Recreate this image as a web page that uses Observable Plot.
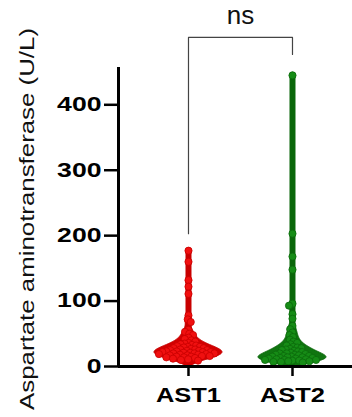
<!DOCTYPE html>
<html><head><meta charset="utf-8">
<script src="https://cdn.jsdelivr.net/npm/d3@7"></script>
<script src="https://cdn.jsdelivr.net/npm/@observablehq/plot@0.6"></script>
<style>body{margin:0;background:#fff;}</style>
</head><body><div id="chart"></div>
<script>
// ---- data ----
const categories = ["AST1", "AST2"];
const ast1 = [177, 160, 132, 122, 111, 78, 72, 68, 56, 53, 50, 48, 44, 42, 40, 38, 36, 35, 34, 33, 32, 31, 30, 30, 29, 28, 28, 27, 26, 26, 25, 25, 24, 24, 23, 23, 22, 22, 22, 21, 21, 20, 20, 20, 19, 19, 18, 18, 17, 17, 16, 16, 15, 15, 14, 14, 13, 12, 11, 10, 9];
const ast2 = [445, 203, 168, 148, 96, 93, 80, 73, 62, 57, 52, 48, 45, 41, 38, 36, 34, 32, 30, 29, 28, 27, 26, 25, 24, 23, 22, 21, 20, 20, 19, 18, 18, 17, 16, 16, 15, 15, 14, 14, 13, 13, 12, 12, 11, 11, 10, 10, 10, 9, 9, 8, 8, 7, 7, 6];
const yTicks = [0, 100, 200, 300, 400];
const yTitle = "Aspartate aminotransferase (U/L)";
const sigLabel = "ns";
const bracketX = [1, 1, 2, 2];
const bracketY = [203, 503, 503, 477];
const sigLabelY = 524;

// ---- layout ----
const W = 352, H = 417, mL = 118, mR = 0, mT = 67, mB = 51;
const yMax = 457;
const xDomain = [0.327, 2.577];
const yPx = d3.scaleLinear([0, yMax], [H - mB, mT]);
const xUnitPx = (W - mL - mR) / (xDomain[1] - xDomain[0]);

const groups = [
  {name: categories[0], values: ast1, pos: 1, area: "#d20000", spike: "#c80000", dot: "#f01010", dotStroke: "#c80000", h: 7},
  {name: categories[1], values: ast2, pos: 2, area: "#107510", spike: "#0a660a", dot: "#168c16", dotStroke: "#0b690b", h: 6}
];

function kde(values, h, lo, hi, step) {
  const out = [];
  for (let y = lo; y <= hi + 1e-9; y += step) {
    let s = 0;
    for (const v of values) { const z = (y - v) / h; s += Math.exp(-0.5 * z * z); }
    out.push({y, d: s});
  }
  return out;
}

function swarm(values, d) {
  const order = values.map(v => ({v, py: yPx(v)})).sort((a, b) => b.v - a.v);
  const placed = [];
  for (const p of order) {
    const near = placed.filter(q => Math.abs(q.py - p.py) < d);
    const cands = [0];
    for (const q of near) {
      const dx = Math.sqrt(d * d - (q.py - p.py) ** 2);
      cands.push(q.dx + dx, q.dx - dx);
    }
    cands.sort((a, b) => Math.abs(a) - Math.abs(b) || a - b);
    p.dx = 0;
    for (const c of cands) {
      if (near.every(q => (q.dx - c) ** 2 + (q.py - p.py) ** 2 >= d * d - 1e-6)) { p.dx = c; break; }
    }
    placed.push(p);
  }
  return placed;
}

const marks = [];
const halfMaxPx = 34;
for (const g of groups) {
  const lo = Math.max(0, d3.min(g.values) - 2 * g.h), hi = d3.max(g.values);
  const dens = kde(g.values, g.h, lo, hi, 0.5);
  const dmax = d3.max(dens, d => d.d);
  const rows = dens.map(r => {
    const w = r.d / dmax * halfMaxPx / xUnitPx;
    return {y: r.y, x1: g.pos - w, x2: g.pos + w};
  });
  marks.push(Plot.areaX(rows, {y: "y", x1: "x1", x2: "x2", fill: g.area, stroke: g.spike, strokeWidth: 1, curve: "basis"}));
  marks.push(Plot.ruleX([g], {x: "pos", y1: d => d3.min(d.values), y2: d => d3.max(d.values), stroke: g.spike, strokeWidth: 6, strokeLinecap: "round"}));
  const pts = swarm(g.values, 4.0).map(p => ({y: p.v, x: g.pos + p.dx / xUnitPx}));
  marks.push(Plot.dot(pts, {x: "x", y: "y", r: 3.6, fill: g.dot, stroke: g.dotStroke, strokeWidth: 0.8}));
}

const bracket = bracketX.map((x, i) => ({x, y: bracketY[i]}));

const chart = Plot.plot({
  width: W, height: H,
  marginLeft: mL, marginRight: mR, marginTop: mT, marginBottom: mB,
  style: {fontFamily: "'Liberation Sans', Arial, sans-serif", background: "#fff", color: "#000", overflow: "visible"},
  x: {domain: xDomain, axis: null},
  y: {domain: [0, yMax], axis: null},
  marks: [
    ...marks,
    Plot.ruleY([0], {stroke: "#000", strokeWidth: 3}),
    Plot.ruleX([xDomain[0]], {y1: 0, y2: yMax, stroke: "#000", strokeWidth: 3}),
    Plot.axisY(yTicks, {tickSize: 14, tickPadding: 3, fontSize: 20, fontWeight: "bold", strokeWidth: 2.5, label: null}),
    Plot.axisX([1, 2], {tickSize: 10, tickPadding: 11, fontSize: 21, fontWeight: "bold", strokeWidth: 2.5, tickFormat: d => categories[d - 1], label: null}),
    Plot.line(bracket, {x: "x", y: "y", stroke: "#444", strokeWidth: 1.2}),
    Plot.text([sigLabel], {x: 1.5, y: sigLabelY, text: d => d, fontSize: 26, lineAnchor: "bottom", fill: "#111"}),
    Plot.text([yTitle], {frameAnchor: "left", textAnchor: "middle", rotate: -90, dx: -91, dy: 2, text: d => d, fontSize: 21, fill: "#111"})
  ]
});
document.getElementById("chart").appendChild(chart);

// stretch glyphs horizontally like the reference's text
chart.querySelectorAll("text").forEach(t => {
  const s = t.textContent;
  if (yTicks.map(String).includes(s)) {
    t.setAttribute("textLength", s.length * 14.8);
    t.setAttribute("lengthAdjust", "spacingAndGlyphs");
  } else if (categories.includes(s)) {
    t.setAttribute("textLength", 65);
    t.setAttribute("lengthAdjust", "spacingAndGlyphs");
  } else if (s === yTitle) {
    t.setAttribute("textLength", 382);
    t.setAttribute("lengthAdjust", "spacingAndGlyphs");
  }
});
</script>
</body></html>
